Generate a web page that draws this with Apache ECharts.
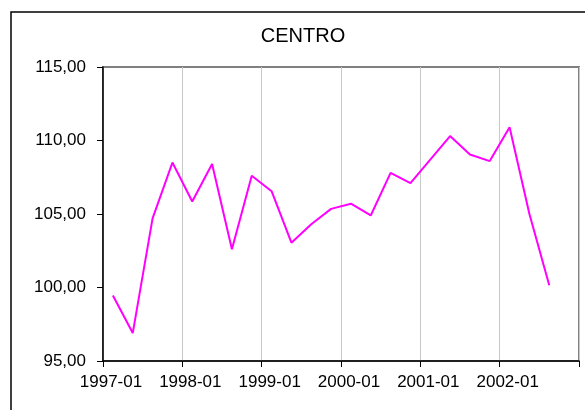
<!DOCTYPE html>
<html>
<head>
<meta charset="utf-8">
<script src="https://cdn.jsdelivr.net/npm/echarts@6/dist/echarts.min.js"></script>
<style>
  html, body { margin: 0; padding: 0; background: #fff; }
  #chart { width: 585px; height: 410px; }
</style>
</head>
<body>
<div id="chart"></div>
<script>
// quarterly index values, one per quarter from 1997-01 to 2002-07
var quarters = [
    '1997-01', '1997-04', '1997-07', '1997-10',
    '1998-01', '1998-04', '1998-07', '1998-10',
    '1999-01', '1999-04', '1999-07', '1999-10',
    '2000-01', '2000-04', '2000-07', '2000-10',
    '2001-01', '2001-04', '2001-07', '2001-10',
    '2002-01', '2002-04', '2002-07', '2002-10'
];
var centro = [
    99.45, 96.9, 104.7, 108.5,
    105.85, 108.4, 102.6, 107.6,
    106.55, 103.05, 104.3, 105.35,
    105.7, 104.9, 107.8, 107.1,
    108.7, 110.3, 109.05, 108.6,
    110.9, 105.0, 100.15
];
var yearLabels = ['1997-01', '1998-01', '1999-01', '2000-01', '2001-01', '2002-01', ''];

var font = 'Liberation Sans, Arial, sans-serif';
var chart = echarts.init(document.getElementById('chart'));

chart.setOption({
    backgroundColor: '#fff',
    animation: false,
    title: {
        text: 'CENTRO',
        left: 303,
        top: 26,
        padding: 0,
        textAlign: 'center',
        textStyle: { fontFamily: font, fontSize: 20, fontWeight: 'normal', color: '#000' }
    },
    graphic: [{
        type: 'rect',
        shape: { x: 11, y: 12, width: 620, height: 440 },
        style: { fill: 'none', stroke: '#000', lineWidth: 1.5 },
        silent: true
    }],
    grid: {
        left: 103, top: 67, right: 6, bottom: 49,
        show: true,
        borderColor: '#808080',
        borderWidth: 2
    },
    xAxis: [{
        type: 'category',
        data: quarters,
        boundaryGap: true,
        show: false
    }, {
        type: 'value',
        min: 0,
        max: quarters.length,
        interval: 4,
        position: 'bottom',
        axisLine: { lineStyle: { color: '#000', width: 1.5 } },
        axisTick: { show: true, length: 6, lineStyle: { color: '#000' } },
        axisLabel: {
            fontFamily: font, fontSize: 17, color: '#000', margin: 13,
            padding: [0, 0, 0, 16],
            formatter: function (v) { return yearLabels[v / 4] || ''; }
        },
        splitLine: { show: true, lineStyle: { color: '#c8c8c8', width: 1 } }
    }],
    yAxis: {
        type: 'value',
        min: 95,
        max: 115,
        interval: 5,
        axisLine: { show: true, lineStyle: { color: '#000', width: 1.5 } },
        axisTick: { show: true, length: 6, lineStyle: { color: '#000' } },
        axisLabel: {
            fontFamily: font, fontSize: 17, color: '#000', margin: 17,
            formatter: function (v) { return v.toFixed(2).replace('.', ','); }
        },
        splitLine: { show: false }
    },
    series: [{
        type: 'line',
        xAxisIndex: 0,
        data: centro,
        symbol: 'none',
        lineStyle: { color: '#ff00ff', width: 2 }
    }]
});
</script>
</body>
</html>
